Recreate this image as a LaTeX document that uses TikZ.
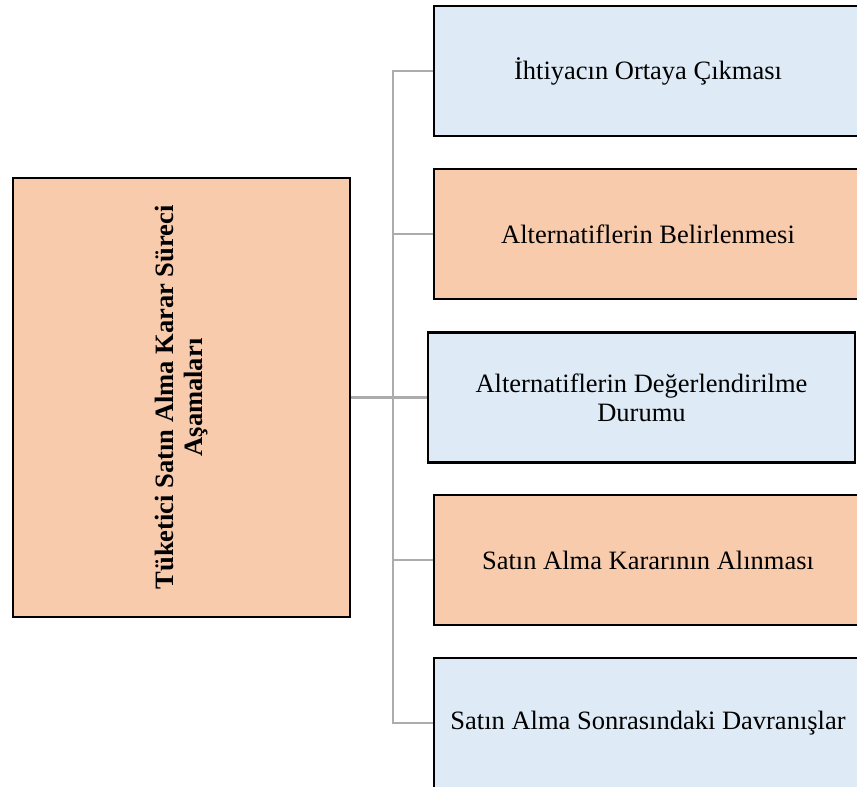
\documentclass[tikz,border=0pt]{standalone}
\usepackage{fontspec}
\setmainfont{Liberation Serif}
\definecolor{paleblue}{RGB}{222,234,246}
\definecolor{paleorange}{RGB}{247,203,172}
\definecolor{linkgray}{RGB}{172,172,172}
\begin{document}
\begin{tikzpicture}[x=1pt,y=1pt,
  stagebox/.style={draw=black, line width=2.4pt, minimum width=428pt, minimum height=130pt,
    inner sep=0pt, align=center, font=\fontsize{26.5}{29}\selectfont},
  bluebox/.style={stagebox, fill=paleblue},
  orangebox/.style={stagebox, fill=paleorange},
  conn/.style={draw=linkgray, line width=2.2pt}]
\useasboundingbox (0,0) rectangle (857,-787);
\clip (0,0) rectangle (857,-787);

% main stage box on the left
\node[draw=black, line width=2.4pt, fill=paleorange, minimum width=337pt, minimum height=439pt,
      inner sep=0pt] (main) at (181.5,-397.5) {};
\node[rotate=90, align=center, font=\bfseries\fontsize{26.5}{28.5}\selectfont] (maintext) at (main.center)
  {Tüketici Satın Alma Karar Süreci\\Aşamaları};

% the five stages
\node[bluebox]   (s1) at (648,-71)  {İhtiyacın Ortaya Çıkması};
\node[orangebox] (s2) at (648,-234) {Alternatiflerin Belirlenmesi};
\node[bluebox, minimum width=427pt] (s3) at (641.5,-397.5) {Alternatiflerin Değerlendirilme\\Durumu};
\node[orangebox] (s4) at (648,-560) {Satın Alma Kararının Alınması};
\node[bluebox]   (s5) at (648,-723) {Satın Alma Sonrasındaki Davranışlar};

% connectors
\coordinate (spine) at (393,0);
\draw[conn] (s1.west) -- (s1.west -| spine) -- (s5.west -| spine) -- (s5.west);
\draw[conn] (main.east) -- (main.east -| spine);
\draw[conn] (s2.west) -- (s2.west -| spine);
\draw[conn] (s3.west) -- (s3.west -| spine);
\draw[conn] (s4.west) -- (s4.west -| spine);
\end{tikzpicture}
\end{document}
